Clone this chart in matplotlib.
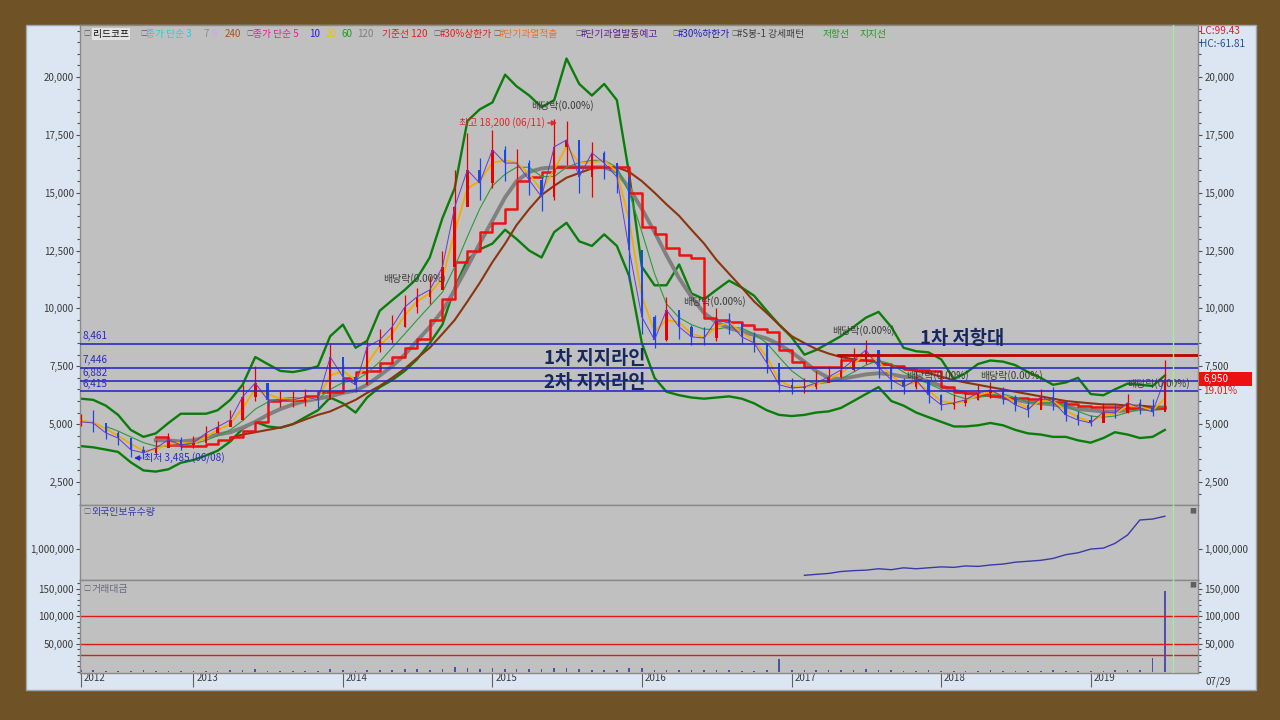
import numpy as np
import pandas as pd
import matplotlib
matplotlib.use('Agg')
import matplotlib.pyplot as plt
import matplotlib.transforms as mtrans
from matplotlib.patches import Rectangle
from matplotlib.ticker import FixedLocator, FuncFormatter, AutoMinorLocator

plt.rcParams['font.family'] = ['Noto Sans CJK KR', 'DejaVu Sans']

# ---- data (monthly) ----
months = pd.date_range('2012-04-01', periods=88, freq='MS')

close = [5100, 5050, 4620, 4400, 3890, 3760, 3970, 4320, 4100, 4190,
         4620, 4880, 5180, 6180, 6780, 6050, 6050, 6050, 6180, 6050,
         7900, 7040, 6700, 8340, 8640, 9200, 10060, 10500, 10800, 11790,
         14380, 15980, 15420, 16850, 16280, 16280, 15550, 14820, 16980, 17280,
         15680, 16720, 16280, 15680, 12530, 9630, 8640, 9930, 9200, 8770,
         8720, 9500, 9370, 8770, 8510, 7640, 6700, 6560, 6610, 6780,
         7040, 7340, 7770, 8200, 7470, 6910, 6610, 6910, 6260, 5830,
         5920, 6050, 6350, 6480, 6180, 5830, 5610, 6180, 5960, 5400,
         5180, 5050, 5530, 5480, 5920, 5700, 5530, 6950]
high = [5450, 5600, 4950, 4700, 4250, 4050, 4300, 4600, 4450, 4500,
        4900, 5150, 5600, 6700, 7500, 6500, 6450, 6450, 6500, 6450,
        8450, 7600, 7100, 8600, 9100, 9700, 10600, 10900, 11400, 12500,
        16000, 17600, 16500, 17700, 17000, 16900, 16400, 15700, 18200, 18100,
        16900, 17200, 16800, 16300, 14500, 10800, 9700, 10500, 9800, 9300,
        9200, 10000, 9800, 9300, 9000, 8300, 7200, 7000, 7000, 7300,
        7500, 7900, 8300, 8650, 8100, 7500, 7000, 7300, 6900, 6300,
        6300, 6400, 6700, 6800, 6600, 6250, 6000, 6500, 6600, 5900,
        5550, 5400, 5900, 5850, 6300, 6100, 6100, 7750]
low = [4900, 4650, 4350, 4100, 3600, 3485, 3700, 4000, 3900, 3950,
       4300, 4600, 4900, 5200, 6000, 5800, 5750, 5750, 5800, 5700,
       6700, 6700, 6400, 7000, 8100, 8500, 9200, 9800, 10200, 10900,
       11900, 14500, 14700, 15200, 15500, 15600, 14900, 14200, 14700, 16200,
       15000, 14800, 15600, 15000, 11200, 8900, 8300, 8600, 8700, 8400,
       8400, 8600, 8900, 8500, 8100, 7200, 6400, 6300, 6350, 6500,
       6800, 7000, 7300, 7600, 7000, 6500, 6300, 6500, 5900, 5600,
       5650, 5800, 6050, 6150, 5850, 5550, 5300, 5700, 5600, 5150,
       4950, 4900, 5100, 5250, 5500, 5450, 5350, 5600]

ma20 = [5150, 5080, 4800, 4500, 4150, 3850, 3900, 4150, 4200, 4150,
        4450, 4750, 5000, 5700, 6500, 6300, 6100, 6050, 6100, 6100,
        7100, 7300, 6900, 7600, 8400, 8900, 9700, 10300, 10650, 11300,
        13300, 15200, 15500, 16300, 16400, 16300, 15800, 15100, 16000, 17000,
        16300, 16300, 16400, 15900, 13800, 10500, 9000, 9500, 9400, 8900,
        8750, 9200, 9400, 8950, 8600, 7900, 6900, 6600, 6600, 6700,
        6950, 7200, 7600, 8050, 7700, 7100, 6700, 6800, 6450, 6000,
        5900, 6000, 6250, 6400, 6250, 5950, 5700, 6000, 6000, 5600,
        5300, 5100, 5400, 5450, 5800, 5750, 5600, 6100]
nan = np.nan
ma60 = [nan, nan, 4900, 4700, 4450, 4200, 4050, 4050, 4100, 4150,
        4300, 4500, 4750, 5150, 5650, 5950, 6100, 6150, 6100, 6100,
        6500, 6800, 6900, 7200, 7700, 8300, 8900, 9500, 10100, 10700,
        11800, 13100, 14300, 15300, 15800, 16100, 16100, 15700, 15700, 16100,
        16300, 16400, 16400, 16100, 15000, 13300, 11500, 10200, 9600, 9300,
        9100, 9100, 9200, 9150, 8900, 8500, 7900, 7300, 6900, 6750,
        6800, 6950, 7250, 7550, 7750, 7600, 7250, 6950, 6750, 6500,
        6250, 6100, 6150, 6250, 6300, 6150, 5950, 5900, 5950, 5800,
        5550, 5350, 5300, 5350, 5500, 5650, 5650, 5750]
ma120 = [nan] * 6 + [
        4300, 4300, 4250, 4300, 4450, 4550, 4650, 4850, 5100, 5400,
        5650, 5850, 6000, 6100, 6200, 6350, 6450, 6700, 7100, 7500,
        8000, 8600, 9200, 9900, 10800, 11800, 12800, 13800, 14800, 15500,
        15900, 16050, 16100, 16100, 16100, 16100, 16100, 15900, 15200, 14300,
        13300, 12300, 11300, 10500, 9800, 9400, 9150, 9000, 8850, 8700,
        8450, 8100, 7700, 7300, 7000, 6950, 7050, 7150, 7200, 7150,
        7050, 7000, 6850, 6650, 6450, 6350, 6300, 6250, 6150, 6050,
        5950, 5900, 5850, 5750, 5650, 5600, 5550, 5550, 5600, 5650,
        5650, 5700]
base_line = [nan] * 6 + [
        4450, 4100, 4050, 4050, 4150, 4300, 4450, 4700, 5100, 6000,
        6050, 6050, 6200, 6400, 6400, 7000, 7250, 7300, 7650, 7900,
        8300, 8700, 9500, 10400, 12000, 12500, 13300, 13700, 14300, 15500,
        15700, 15900, 16100, 16100, 16100, 16100, 16100, 16100, 15000, 13500,
        13200, 12600, 12300, 12200, 9600, 9500, 9400, 9300, 9100, 9000,
        8200, 7700, 7450, 7450, 7450, 7750, 7750, 7750, 7600, 7500,
        7400, 7350, 7300, 6600, 6400, 6350, 6250, 6200, 6150, 6150,
        6100, 6050, 5950, 5850, 5800, 5750, 5750, 5750, 5700, 5700,
        5700, 5750]
ma240 = [nan] * 12 + [
        4400, 4550, 4650, 4750, 4850, 5000, 5200, 5400, 5550, 5800,
        6050, 6350, 6650, 7000, 7400, 7850, 8300, 8900, 9500, 10300,
        11100, 12000, 12800, 13600, 14300, 14900, 15300, 15650, 15850, 16050,
        16100, 16100, 15900, 15500, 15000, 14500, 14000, 13400, 12800, 12100,
        11500, 10900, 10300, 9800, 9300, 8800, 8500, 8250, 8050, 7900,
        7800, 7750, 7650, 7550, 7400, 7300, 7200, 7050, 6900, 6800,
        6700, 6600, 6500, 6400, 6300, 6200, 6100, 6000, 5950, 5900,
        5850, 5850, 5800, 5800, 5750, 5750]
band_upper = [6100, 6050, 5800, 5400, 4750, 4450, 4600, 5050, 5450, 5450,
              5450, 5600, 6050, 6700, 7900, 7600, 7300, 7250, 7350, 7500,
              8800, 9300, 8300, 8600, 9900, 10350, 10800, 11300, 12200, 13900,
              15200, 18100, 18600, 18900, 20100, 19600, 19200, 18700, 19000, 20800,
              19700, 19200, 19700, 19000, 15800, 11800, 11000, 11000, 11900, 10650,
              10400, 10800, 11200, 10900, 10550, 9900, 9300, 8750, 8000, 8200,
              8500, 8800, 9200, 9600, 9850, 9200, 8300, 8150, 8100, 7800,
              6950, 7200, 7600, 7750, 7700, 7550, 7250, 7000, 6700, 6800,
              7000, 6300, 6250, 6500, 6750, 6700, 6650, 7100]
band_lower = [4050, 4000, 3900, 3800, 3350, 3000, 2950, 3050, 3330, 3450,
              3650, 3850, 4250, 4800, 5100, 4900, 4840, 5000, 5300, 5600,
              6150, 5900, 5500, 6150, 6600, 6900, 7300, 7800, 8500, 9300,
              10900, 12100, 12550, 12800, 13400, 13000, 12500, 12200, 13300, 13700,
              12900, 12700, 13200, 12700, 11400, 8500, 7000, 6400, 6250, 6150,
              6100, 6150, 6200, 6100, 5900, 5600, 5400, 5350, 5400, 5500,
              5550, 5700, 6000, 6300, 6600, 6000, 5800, 5500, 5300, 5100,
              4900, 4900, 4950, 5050, 4950, 4750, 4600, 4550, 4450, 4450,
              4300, 4200, 4400, 4650, 4550, 4400, 4450, 4750]

support_levels = [8461, 7446, 6882, 6415]
resist_level = 8000

foreign_months = pd.date_range('2017-02-01', periods=30, freq='MS')
foreign_hold = [720000, 730000, 740000, 760000, 770000, 775000, 790000, 780000, 800000, 790000,
                800000, 810000, 805000, 820000, 815000, 830000, 840000, 860000, 870000, 880000,
                900000, 940000, 960000, 1000000, 1010000, 1060000, 1150000, 1310000, 1320000, 1350000]

trade_value = [3000, 2000, 1500, 1200, 1500, 2500, 1000, 800, 1200, 1500, 1000, 1300,
               2000, 3500, 4000, 1500, 1200, 1000, 1500, 1200, 5000, 2500, 1500, 3000,
               3500, 2500, 4000, 5000, 3500, 4500, 8000, 6000, 5500, 7000, 5000, 4000,
               4500, 5000, 6500, 7000, 4000, 3500, 3000, 2500, 6000, 7000, 3500, 3000,
               3000, 2500, 2000, 3000, 2000, 1800, 1500, 2000, 23000, 3000, 2000, 2500,
               2000, 3000, 3500, 5000, 2500, 2000, 1500, 1500, 2000, 1500, 1200, 1500,
               1500, 2000, 1800, 1500, 1200, 1500, 2000, 1800, 1500, 1300, 1500, 2500,
               2000, 2500, 25000, 145000]
trade_lines = [100000, 50000, 30000]

year_ticks = pd.to_datetime(['2012-04-01', '2013-01-01', '2014-01-01', '2015-01-01',
                             '2016-01-01', '2017-01-01', '2018-01-01', '2019-01-01'])
year_labels = ['2012', '2013', '2014', '2015', '2016', '2017', '2018', '2019']

# ---- figure ----
W, H = 1280, 720
fig = plt.figure(figsize=(12.8, 7.2), dpi=100, facecolor='#6f5326')
fig.patches.append(Rectangle((26 / W, 1 - 690 / H), 1230 / W, 665 / H, transform=fig.transFigure,
                             facecolor='#dce6f2', edgecolor='#9aa6b4', lw=1, zorder=-10))

def fpos(px, py):
    return px / W, 1 - py / H

ax = fig.add_axes([80 / W, 1 - 505 / H, 1118 / W, 480 / H])
axf = fig.add_axes([80 / W, 1 - 580 / H, 1118 / W, 75 / H], sharex=ax)
axv = fig.add_axes([80 / W, 1 - 673 / H, 1118 / W, 93 / H], sharex=ax)

fmt = FuncFormatter(lambda v, p: '{:,.0f}'.format(v))
for a in (ax, axf, axv):
    a.set_facecolor('#c0c0c0')
    for s in a.spines.values():
        s.set_color('#8a8a8a')
        s.set_linewidth(1)
    a.tick_params(axis='y', which='both', left=True, right=True, labelleft=True, labelright=True,
                  direction='out', length=3, width=0.8, color='#505050',
                  labelsize=7, labelcolor='#3a3a3a', pad=1.5)
    a.tick_params(axis='y', which='minor', length=2)
    a.yaxis.set_major_formatter(fmt)
    a.yaxis.set_minor_locator(AutoMinorLocator(5))

# main price panel
ax.set_ylim(1506, 22247)
ax.yaxis.set_major_locator(FixedLocator([2500, 5000, 7500, 10000, 12500, 15000, 17500, 20000]))
ax.tick_params(axis='x', which='both', bottom=False, labelbottom=False)

ax.plot(months, band_upper, color='#0b7d0b', lw=1.7, zorder=2)
ax.plot(months, band_lower, color='#0b7d0b', lw=1.7, zorder=2)
ax.plot(months, ma240, color='#8b3510', lw=1.5, zorder=3)
ax.plot(months, ma120, color='#808080', lw=2.8, zorder=3)
ax.plot(months, base_line, color='#f01010', lw=1.8, drawstyle='steps-post', zorder=4)
ax.plot(months, ma60, color='#2f9a3a', lw=0.8, zorder=4)
ax.plot(months, ma20, color='#f2ac00', lw=1.3, zorder=5)

# candles
opens = [close[0]] + close[:-1]
cols = ['#e80000' if c >= o else '#1848e8' for o, c in zip(opens, close)]
ax.vlines(months, low, high, colors=cols, lw=0.9, zorder=6)
ax.bar(months, [abs(c - o) for o, c in zip(opens, close)],
       bottom=[min(o, c) for o, c in zip(opens, close)],
       width=6, color=cols, zorder=6)
ax.plot(months, close, color='#6a3ad0', lw=0.7, zorder=6)

for lv in support_levels:
    ax.axhline(lv, color='#2a2ac8', lw=1.2, zorder=7)
    ax.text(0.002, lv + 120, '{:,}'.format(lv), transform=ax.get_yaxis_transform(),
            color='#2a2ac8', fontsize=7.2, va='bottom', ha='left', zorder=8)
ax.plot([pd.Timestamp('2017-04-25'), pd.Timestamp('2019-09-20')], [resist_level, resist_level],
        color='#c00000', lw=2, zorder=7)

def apos(px, py):
    return (px - 80) / 1118, (505 - py) / 480

navy = '#17285e'
for txt, px, py in [('1차 지지라인', 595, 358), ('2차 지지라인', 595, 383), ('1차 저항대', 962, 339)]:
    ax.text(*apos(px, py), txt, transform=ax.transAxes, ha='center', va='center',
            fontsize=13.5, fontweight='bold', color=navy, zorder=9)

for px, py in [(531, 106), (383, 279), (683, 302), (832, 331), (906, 376), (980, 376), (1127, 384)]:
    ax.text(*apos(px, py), '배당락(0.00%)', transform=ax.transAxes, ha='left', va='center',
            fontsize=7.2, color='#3c3c3c', zorder=9)

ax.annotate('최고 18,200 (06/11)', xy=apos(557, 123), xytext=apos(545, 123),
            xycoords='axes fraction', textcoords='axes fraction', ha='right', va='center',
            fontsize=7.2, color='#e02828', zorder=9,
            arrowprops=dict(arrowstyle='-|>', color='#e02828', lw=1, shrinkA=0, shrinkB=0))
ax.annotate('최저 3,485 (06/08)', xy=apos(134, 458), xytext=apos(144, 458),
            xycoords='axes fraction', textcoords='axes fraction', ha='left', va='center',
            fontsize=7.2, color='#2a2ac8', zorder=9,
            arrowprops=dict(arrowstyle='-|>', color='#2a2ac8', lw=1, shrinkA=0, shrinkB=0))

# foreign holdings panel
axf.set_ylim(670000, 1470000)
axf.yaxis.set_major_locator(FixedLocator([1000000]))
axf.tick_params(axis='x', which='both', bottom=False, labelbottom=False)
axf.plot(foreign_months, foreign_hold, color='#3a3aa8', lw=1)
axf.text(0.01, 0.9, '외국인보유수량', transform=axf.transAxes, fontsize=7.2,
         color='#3a3aa8', va='center', ha='left')
axf.text(0.003, 0.9, '□', transform=axf.transAxes, fontsize=5, color='#606060', va='center')
axf.text(0.992, 0.92, '■', transform=axf.transAxes, fontsize=5, color='#606060', va='center')

# trade value panel
axv.set_ylim(-2600, 165800)
axv.yaxis.set_major_locator(FixedLocator([50000, 100000, 150000]))
for lv in trade_lines:
    axv.axhline(lv, color='#e01818', lw=1)
axv.bar(months, trade_value, width=4, color='#5050a8')
axv.text(0.01, 0.9, '거래대금', transform=axv.transAxes, fontsize=7.2,
         color='#6a6a80', va='center', ha='left')
axv.text(0.003, 0.9, '□', transform=axv.transAxes, fontsize=5, color='#606060', va='center')
axv.text(0.992, 0.94, '■', transform=axv.transAxes, fontsize=5, color='#606060', va='center')

axv.set_xlim(pd.Timestamp('2012-03-30'), pd.Timestamp('2019-09-20'))
axv.set_xticks(year_ticks)
axv.set_xticklabels(year_labels)
axv.tick_params(axis='x', direction='out', length=10, width=0.8, color='#606060',
                labelsize=7, labelcolor='#3a3a3a', pad=-10)
shift = mtrans.ScaledTranslation(2 / 72, 0, fig.dpi_scale_trans)
for lab in axv.get_xticklabels():
    lab.set_ha('left')
    lab.set_transform(lab.get_transform() + shift)

for a in (ax, axf, axv):
    a.axvline(pd.Timestamp('2019-07-20'), color='#a8e8a0', lw=1, zorder=10)

# top legend row
legend_items = [('□', 83, '#606060'), ('리드코프', 93, '#101010'), ('□', 140, '#606060'),
                ('종가 단순 3', 146, '#22d0d0'), ('7', 203, '#8c8c8c'), ('9', 212, '#c8a8e8'),
                ('240', 225, '#a0522d'), ('□', 246, '#606060'), ('종가 단순 5', 253, '#e0209a'),
                ('10', 309, '#2020e0'), ('20', 326, '#f0c000'), ('60', 342, '#209a20'),
                ('120', 357, '#808080'), ('기준선 120', 382, '#e02020'), ('□', 433, '#606060'),
                ('#30%상한가', 440, '#e02020'), ('□', 493, '#606060'), ('#단기과열적출', 499, '#f07020'),
                ('□', 575, '#606060'), ('#단기과열발동예고', 581, '#602090'), ('□', 672, '#606060'),
                ('#30%하한가', 678, '#2020c0'), ('□', 731, '#606060'), ('#S봉-1 강세패턴', 737, '#404040'),
                ('저항선', 823, '#209a20'), ('지지선', 860, '#209a20')]
for txt, px, c in legend_items:
    kw = {}
    if txt == '리드코프':
        kw['bbox'] = dict(facecolor='#e4e4e4', edgecolor='none', pad=0.8)
    fig.text(*fpos(px, 34), txt, color=c, fontsize=5 if txt == '□' else 7, va='center', ha='left', **kw)

fig.text(*fpos(1200, 31), 'LC:99.43', color='#e02020', fontsize=7.2, va='center')
fig.text(*fpos(1200, 44), 'HC:-61.81', color='#2050a8', fontsize=7.2, va='center')
fig.text(*fpos(1206, 682), '07/29', color='#3a3a3a', fontsize=7, va='center')

fig.patches.append(Rectangle(fpos(1199, 386), 53 / W, 14 / H, transform=fig.transFigure,
                             facecolor='#ec1010', edgecolor='none', zorder=5))
fig.text(*fpos(1203, 379), '6,950', color='white', fontsize=7.2, va='center', zorder=6)
fig.text(*fpos(1203, 391), '19.01%', color='#e02020', fontsize=7.2, va='center')

fig.savefig('out.png', dpi=100, facecolor=fig.get_facecolor())
